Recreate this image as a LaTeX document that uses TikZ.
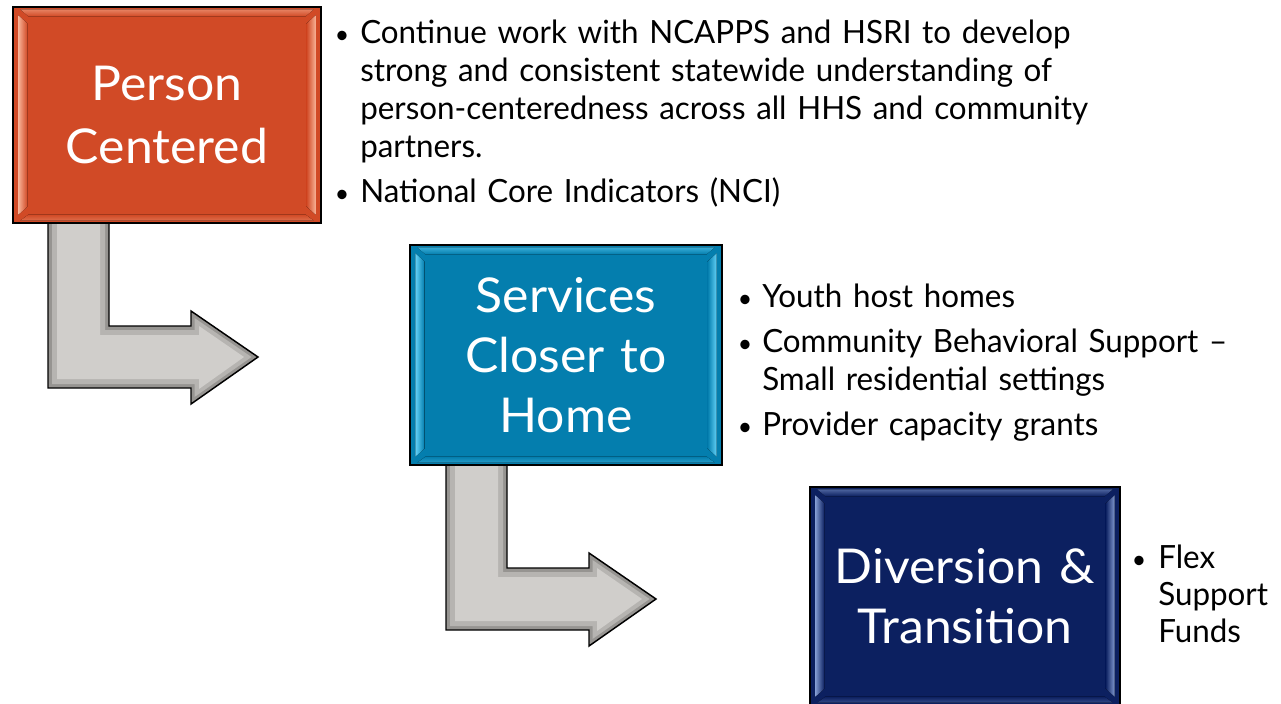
\documentclass[tikz,border=0pt]{standalone}
\usepackage{fontspec}
\setmainfont{Lato}[FakeStretch=0.98]
\newfontfamily\boxfont{Lato}[FakeStretch=1.04]
\usetikzlibrary{calc}
\definecolor{pcfill}{RGB}{209,74,38}
\definecolor{pclight}{RGB}{248,178,150}
\definecolor{scfill}{RGB}{4,126,174}
\definecolor{sclight}{RGB}{100,210,248}
\definecolor{dtfill}{RGB}{12,32,96}
\definecolor{dtlight}{RGB}{130,155,210}
\definecolor{arrowout}{RGB}{150,148,145}
\definecolor{arrowmid}{RGB}{182,180,177}
\definecolor{arrowin}{RGB}{208,206,203}
\tikzset{
  stepbox/.style={draw=black, line width=1.1pt, inner sep=0pt},
  boxtext/.style={text=white, anchor=base, inner sep=0pt, align=center, text width=300pt, font=\boxfont\fontsize{36}{#1}\selectfont},
  itemtext/.style={anchor=base west, inner sep=0pt, align=left, text width=#1, font=\fontsize{24}{28.5}\selectfont},
  dot/.style={anchor=base, inner sep=0pt, font=\fontsize{19}{20}\selectfont},
  elbow/.style={fill=arrowout, draw=black, line width=1.1pt, line join=miter},
  elbowmid/.style={fill=arrowmid},
  elbowin/.style={fill=arrowin},
}
\newcommand\bevel[3]{%
  \fill[left color=#2, right color=#3] ($(#1.north west)+(6,9)$) -- ($(#1.north west)+(15,17)$) -- ($(#1.south west)+(15,-17)$) -- ($(#1.south west)+(6,-9)$) -- cycle;
  \fill[left color=#3, right color=#2] ($(#1.north east)+(-6,9)$) -- ($(#1.north east)+(-15,17)$) -- ($(#1.south east)+(-15,-17)$) -- ($(#1.south east)+(-6,-9)$) -- cycle;
  \fill[top color=#2!55!#3, bottom color=#3] ($(#1.north west)+(8,3)$) -- ($(#1.north east)+(-8,3)$) -- ($(#1.north east)+(-16,10)$) -- ($(#1.north west)+(16,10)$) -- cycle;
  \fill[top color=#3, bottom color=#2!35!#3] ($(#1.south west)+(16,-9)$) -- ($(#1.south east)+(-16,-9)$) -- ($(#1.south east)+(-8,-3)$) -- ($(#1.south west)+(8,-3)$) -- cycle;
}
\newcommand\elbowshape{%
  \draw[elbow] (48,215) -- (109,215) -- (109,326) -- (191,326) -- (191,311) -- (258,357) -- (191,404) -- (191,388) -- (48,388) -- cycle;
  \fill[elbowmid] (52,215) -- (105,215) -- (105,330) -- (194.5,330) -- (194.5,318) -- (251.5,357) -- (194.5,397) -- (194.5,384) -- (52,384) -- cycle;
  \fill[elbowin] (57,215) -- (100,215) -- (100,335) -- (199,335) -- (199,326) -- (244,357) -- (199,389) -- (199,379) -- (57,379) -- cycle;
}
\begin{document}
\begin{tikzpicture}[x=0.75pt, y=-0.75pt]
\useasboundingbox (0,0) rectangle (1281,703);
\fill[white] (0,0) rectangle (1281,703);

% elbow arrows
\begin{scope}\elbowshape\end{scope}
\begin{scope}[shift={(398,242)}]\elbowshape\end{scope}

% box 1
\node[stepbox, fill=pcfill, minimum width=231pt, minimum height=162pt] (pc) at (167,115) {};
\bevel{pc}{pclight}{pcfill}
\draw[line width=1.1pt] (pc.north west) rectangle (pc.south east);
\node[boxtext=47.25pt] (pct) at (167,100) {Person\\Centered};

% box 2
\node[stepbox, fill=scfill, minimum width=234pt, minimum height=165pt] (sc) at (566,355) {};
\bevel{sc}{sclight}{scfill}
\draw[line width=1.1pt] (sc.north west) rectangle (sc.south east);
\node[boxtext=45pt] (sct) at (566,312) {Services\\Closer to\\Home};

% box 3
\begin{scope}
\clip (0,0) rectangle (1281,703);
\node[stepbox, fill=dtfill, minimum width=232.5pt, minimum height=163.5pt] (dt) at (965,596) {};
\bevel{dt}{dtlight}{dtfill}
\draw[line width=1.1pt] (dt.north west) rectangle (dt.south east);
\node[boxtext=45pt] (dtt) at (965,583) {Diversion \&\\Transition};
\end{scope}

% bullets 1
\node[dot] (d1a) at (342,43) {•};
\node[itemtext=560pt] (t1a) at (360,43) {Continue work with NCAPPS and HSRI to develop\\strong and consistent statewide understanding of\\person-centeredness across all HHS and community\\partners.};
\node[dot] (d1b) at (342,202) {•};
\node[itemtext=560pt] (t1b) at (360,202) {National Core Indicators (NCI)};

% bullets 2
\node[dot] (d2a) at (745,307) {•};
\node[itemtext=380pt] (t2a) at (762,307) {Youth host homes};
\node[dot] (d2b) at (745,352) {•};
\node[itemtext=380pt] (t2b) at (762,352) {Community Behavioral Support –\\Small residential settings};
\node[dot] (d2c) at (745,435) {•};
\node[itemtext=380pt] (t2c) at (762,435) {Provider capacity grants};

% bullets 3
\node[dot] (d3a) at (1139,568) {•};
\node[itemtext=100pt, font=\fontsize{24}{28.1}\selectfont] (t3a) at (1158,568) {Flex\\Support\\Funds};
\end{tikzpicture}
\end{document}
